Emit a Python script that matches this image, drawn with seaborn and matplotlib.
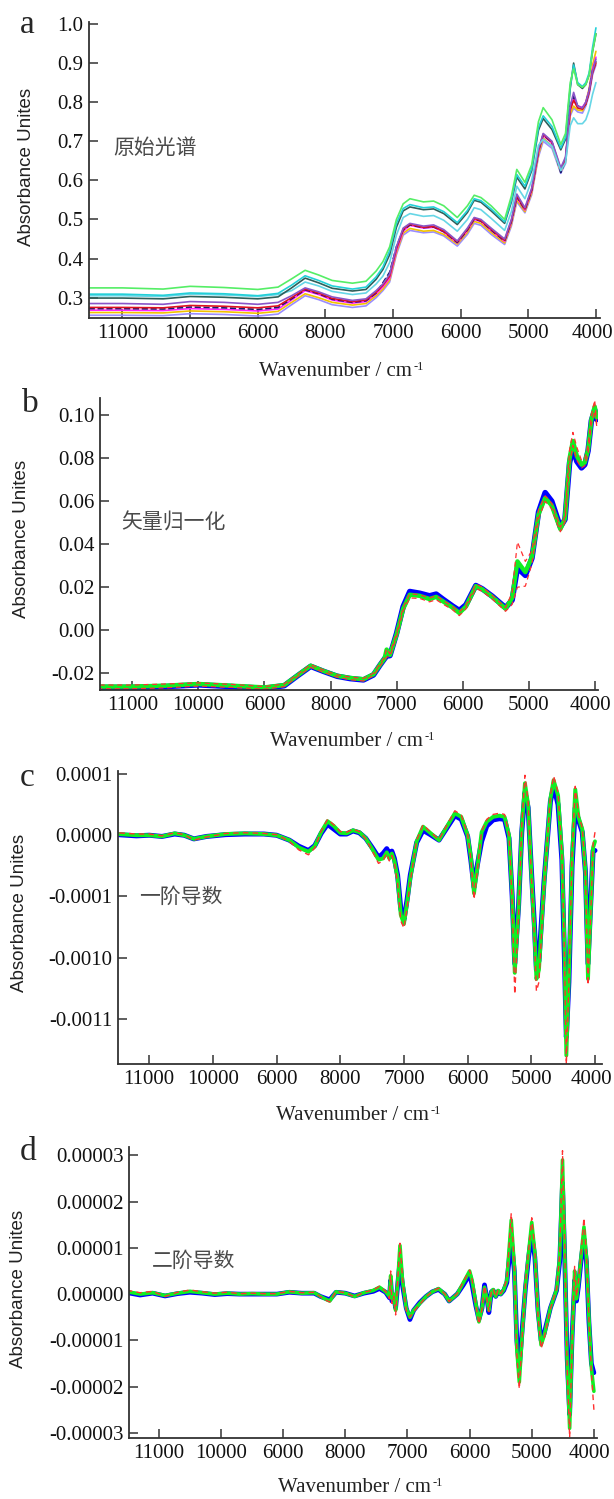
import matplotlib
matplotlib.use("Agg")
import pandas as pd
import matplotlib.pyplot as plt
import seaborn as sns
from matplotlib.ticker import FixedLocator, FixedFormatter
from matplotlib.transforms import ScaledTranslation

# ---------------- data ----------------
# x tick positions and the labels as they are printed (third one reads "6000")
x_ticks = [11000, 10000, 9000, 8000, 7000, 6000, 5000, 4000]
x_tick_labels = ['11000', '10000', '6000', '8000', '7000', '6000', '5000', '4000']

# panel a: raw spectra
wn_a = [11500, 11000, 10400, 10000, 9500, 9000, 8700, 8500, 8300, 8100,
        7900, 7600, 7400, 7250, 7150, 7050, 6950, 6850, 6750, 6550,
        6400, 6250, 6050, 5900, 5800, 5700, 5550, 5350, 5250, 5170,
        5050, 4950, 4850, 4780, 4650, 4520, 4450, 4380, 4330, 4270,
        4200, 4150, 4100, 4050, 4000]
raw_green = [.325, .325, .322, .329, .326, .321, .327, .348, .370, .358,
             .344, .337, .342, .368, .392, .43, .50, .54, .553, .545,
             .547, .535, .505, .535, .562, .556, .535, .500, .56, .628,
             .595, .64, .75, .786, .755, .692, .72, .85, .885, .845,
             .838, .845, .87, .93, .975]
raw_cyan = [.309, .309, .306, .312, .310, .305, .311, .332, .356, .344,
            .330, .322, .327, .353, .378, .42, .49, .528, .538, .530,
            .532, .520, .492, .523, .553, .548, .527, .494, .55, .615,
            .585, .63, .735, .765, .738, .683, .71, .84, .895, .85,
            .84, .85, .875, .94, .99]
raw_slate = [.299, .299, .297, .303, .301, .297, .302, .325, .350, .338,
             .324, .317, .321, .347, .372, .41, .48, .522, .532, .525,
             .527, .515, .487, .518, .549, .544, .522, .490, .545, .608,
             .578, .625, .728, .758, .73, .678, .705, .835, .90, .845,
             .835, .845, .87, .93, .975]
raw_lightcyan = [.305, .305, .303, .309, .307, .303, .308, .318, .340, .330,
                 .316, .308, .312, .335, .355, .39, .46, .505, .515, .508,
                 .510, .498, .470, .50, .53, .525, .503, .472, .52, .585,
                 .553, .60, .69, .705, .688, .625, .645, .74, .76, .745,
                 .745, .755, .78, .82, .85]
raw_purple = [.285, .285, .283, .290, .288, .283, .288, .305, .325, .315,
              .302, .293, .297, .318, .335, .36, .43, .478, .49, .483,
              .486, .474, .445, .478, .505, .500, .478, .450, .50, .565,
              .530, .58, .68, .72, .70, .632, .66, .79, .825, .79,
              .785, .80, .83, .88, .91]
raw_red = [.275, .275, .274, .280, .278, .274, .279, .300, .322, .312,
           .298, .290, .294, .314, .332, .355, .425, .475, .488, .480,
           .482, .470, .443, .475, .503, .497, .475, .447, .497, .560,
           .527, .576, .676, .718, .698, .628, .655, .78, .805, .785,
           .782, .795, .825, .875, .90]
raw_navy = [.272, .272, .271, .276, .274, .270, .275, .297, .320, .310,
            .296, .288, .292, .312, .338, .365, .43, .473, .486, .479,
            .481, .469, .441, .473, .501, .496, .473, .445, .495, .558,
            .525, .575, .675, .716, .697, .620, .650, .79, .815, .79,
            .785, .795, .83, .88, .905]
raw_magenta = [.268, .268, .267, .272, .270, .266, .271, .294, .318, .308,
               .294, .286, .290, .310, .328, .35, .42, .47, .485, .478,
               .480, .468, .440, .472, .500, .495, .472, .444, .493, .556,
               .524, .573, .672, .715, .695, .625, .652, .78, .81, .79,
               .787, .80, .83, .885, .915]
raw_yellow = [.262, .262, .261, .266, .264, .260, .265, .288, .310, .300,
              .288, .281, .285, .305, .322, .345, .415, .465, .477, .470,
              .472, .462, .437, .467, .495, .490, .467, .440, .488, .550,
              .520, .568, .665, .708, .688, .622, .648, .77, .79, .78,
              .778, .80, .835, .895, .93]
raw_violet = [.255, .255, .254, .259, .257, .253, .258, .282, .305, .295,
              .282, .275, .279, .300, .318, .34, .41, .46, .472, .466,
              .468, .458, .432, .462, .490, .485, .462, .436, .483, .545,
              .517, .563, .66, .70, .682, .618, .643, .765, .785, .775,
              .772, .79, .82, .87, .895]

# panel b: vector normalised
wn_b = [11500, 11000, 10500, 10000, 9500, 9000,
        8700, 8500, 8300, 8100, 7900, 7700, 7500,
        7350, 7250, 7180, 7150, 7100, 7000,
        6900, 6800, 6650, 6500, 6400, 6300,
        6150, 6050, 5950, 5800, 5700, 5550,
        5350, 5250, 5170, 5050, 4950, 4850,
        4750, 4650, 4520, 4450, 4380, 4330,
        4270, 4200, 4150, 4100, 4050, 4000, 3970]
vn_blue = [-0.0266, -0.0266, -0.0262, -0.0254, -0.0262, -0.0270,
           -0.0258, -0.0212, -0.0168, -0.0192, -0.0214, -0.0225, -0.0231,
           -0.0208, -0.0162, -0.0132, -0.0120, -0.0118, -0.0015,
           0.0110, 0.0180, 0.0172, 0.0160, 0.0168, 0.0145,
           0.0112, 0.0092, 0.0118, 0.0208, 0.0192, 0.0158,
           0.0105, 0.0140, 0.0290, 0.0255, 0.0335, 0.0550,
           0.0640, 0.0600, 0.0480, 0.0515, 0.0780, 0.0845,
           0.0785, 0.0755, 0.0770, 0.0835, 0.0975, 0.1025, 0.0980]
vn_green = [-0.0262, -0.0262, -0.0258, -0.0250, -0.0258, -0.0266,
            -0.0255, -0.0210, -0.0165, -0.0190, -0.0212, -0.0222, -0.0228,
            -0.0205, -0.0160, -0.0130, -0.0090, -0.0115, -0.0020,
            0.0100, 0.0165, 0.0160, 0.0145, 0.0155, 0.0135,
            0.0105, 0.0080, 0.0110, 0.0205, 0.0190, 0.0155,
            0.0100, 0.0150, 0.0320, 0.0270, 0.0340, 0.0540,
            0.0615, 0.0580, 0.0470, 0.0520, 0.0800, 0.0880,
            0.0810, 0.0770, 0.0780, 0.0840, 0.0980, 0.1040, 0.0990]
vn_red_hi = [-0.0255, -0.0255, -0.0250, -0.0245, -0.0252, -0.0262,
             -0.0250, -0.0206, -0.0160, -0.0186, -0.0208, -0.0218, -0.0224,
             -0.0200, -0.0155, -0.0125, -0.0085, -0.0110, -0.0015,
             0.0105, 0.0170, 0.0165, 0.0150, 0.0160, 0.0140,
             0.0110, 0.0085, 0.0115, 0.0215, 0.0200, 0.0162,
             0.0105, 0.0175, 0.0410, 0.0320, 0.0370, 0.0560,
             0.0625, 0.0590, 0.0478, 0.0530, 0.0840, 0.0920,
             0.0850, 0.0790, 0.0795, 0.0860, 0.1000, 0.1070, 0.0960]
vn_red_lo = [-0.0272, -0.0272, -0.0268, -0.0260, -0.0266, -0.0274,
             -0.0262, -0.0216, -0.0172, -0.0196, -0.0218, -0.0230, -0.0236,
             -0.0212, -0.0166, -0.0136, -0.0125, -0.0122, -0.0030,
             0.0090, 0.0150, 0.0148, 0.0132, 0.0142, 0.0122,
             0.0095, 0.0068, 0.0100, 0.0195, 0.0180, 0.0145,
             0.0088, 0.0120, 0.0200, 0.0205, 0.0310, 0.0520,
             0.0600, 0.0565, 0.0458, 0.0505, 0.0770, 0.0860,
             0.0790, 0.0755, 0.0765, 0.0825, 0.0960, 0.1020, 0.0950]

# panel c: first derivative (plotted in tick units, ticks 1 .. -3)
wn_c = [11500, 11200, 11000, 10800, 10600, 10450, 10300, 10100, 9800, 9500,
        9200, 9000, 8800, 8650, 8500, 8400, 8300, 8200, 8100, 8000,
        7900, 7800, 7700, 7600, 7500, 7400, 7330, 7270, 7230, 7190,
        7150, 7100, 7050, 7000, 6950, 6900, 6800, 6700, 6600, 6450,
        6350, 6200, 6100, 6000, 5950, 5900, 5850, 5780, 5700, 5600,
        5500, 5420, 5350, 5300, 5260, 5200, 5150, 5100, 5050, 5000,
        4950, 4920, 4880, 4800, 4700, 4650, 4580, 4520, 4480, 4450,
        4410, 4360, 4310, 4260, 4200, 4150, 4110, 4060, 4030, 4000]
d1_blue = [0.01, -0.01, 0.00, -0.02, 0.02, 0.00, -0.06, -0.02, 0.01, 0.02,
           0.02, 0.00, -0.08, -0.18, -0.25, -0.17, 0.03, 0.18, 0.10, 0.02,
           0.02, 0.07, 0.04, -0.05, -0.20, -0.36, -0.30, -0.22, -0.30, -0.26,
           -0.38, -0.65, -1.20, -1.38, -1.05, -0.65, -0.12, 0.08, 0.02, -0.08,
           0.08, 0.32, 0.26, -0.02, -0.40, -0.85, -0.50, -0.10, 0.15, 0.25,
           0.27, 0.26, -0.05, -1.00, -2.10, -1.15, 0.05, 0.70, 0.45, -0.55,
           -1.50, -2.20, -2.05, -0.75, 0.55, 0.80, 0.50, -0.40, -2.00, -3.30,
           -2.40, -0.50, 0.45, 0.25, 0.05, -0.60, -2.10, -0.95, -0.25, -0.25]
d1_green = [0.02, 0.00, 0.00, -0.02, 0.03, 0.00, -0.06, -0.02, 0.02, 0.03,
            0.02, 0.00, -0.08, -0.20, -0.27, -0.18, 0.05, 0.23, 0.15, 0.04,
            0.03, 0.08, 0.05, -0.05, -0.22, -0.40, -0.38, -0.28, -0.38, -0.30,
            -0.42, -0.70, -1.30, -1.45, -1.10, -0.70, -0.10, 0.14, 0.05, -0.08,
            0.10, 0.36, 0.30, 0.00, -0.35, -0.95, -0.55, 0.05, 0.22, 0.30,
            0.32, 0.30, 0.00, -1.00, -2.25, -1.20, 0.10, 0.85, 0.50, -0.60,
            -1.60, -2.35, -2.20, -0.80, 0.60, 0.90, 0.65, -0.30, -1.80, -3.60,
            -2.30, -0.40, 0.75, 0.30, 0.10, -0.60, -2.35, -1.00, -0.20, -0.10]
d1_red = [0.04, 0.02, 0.02, -0.01, 0.04, 0.01, -0.08, -0.03, 0.03, 0.04,
          0.03, 0.01, -0.10, -0.24, -0.32, -0.21, 0.07, 0.26, 0.17, 0.06,
          0.05, 0.10, 0.06, -0.06, -0.25, -0.46, -0.42, -0.30, -0.42, -0.33,
          -0.46, -0.78, -1.40, -1.52, -1.18, -0.75, -0.08, 0.17, 0.07, -0.07,
          0.12, 0.40, 0.33, 0.02, -0.38, -1.05, -0.60, 0.07, 0.26, 0.34,
          0.36, 0.34, 0.02, -1.10, -2.60, -1.30, 0.15, 0.98, 0.55, -0.65,
          -1.70, -2.55, -2.40, -0.85, 0.65, 0.97, 0.70, -0.30, -1.90, -3.75,
          -2.40, -0.35, 0.80, 0.35, 0.12, -0.65, -2.45, -1.10, -0.15, 0.05]
d1_ticks = [1, 0, -1, -2, -3]
d1_tick_labels = ['0.0001', '0.0000', '-0.0001', '-0.0010', '-0.0011']

# panel d: second derivative (in units of 1e-5)
wn_d = [11500, 11300, 11100, 10900, 10700, 10500, 10300, 10100, 9900, 9700,
        9500, 9300, 9100, 8900, 8700, 8500, 8400, 8300, 8250, 8150,
        8000, 7850, 7700, 7550, 7450, 7350, 7290, 7270, 7250, 7220,
        7190, 7150, 7120, 7080, 7020, 6960, 6900, 6800, 6700, 6600,
        6500, 6400, 6330, 6200, 6100, 6000, 5960, 5900, 5850, 5800,
        5760, 5720, 5690, 5650, 5620, 5580, 5540, 5500, 5450, 5400,
        5330, 5280, 5240, 5200, 5150, 5100, 5050, 5000, 4950, 4900,
        4850, 4800, 4700, 4600, 4550, 4505, 4470, 4430, 4390, 4350,
        4310, 4280, 4250, 4200, 4160, 4120, 4080, 4040, 4000]
d2_blue = [0.03, -0.02, 0.02, -0.04, 0.01, 0.04, 0.02, -0.01, 0.01, 0.00,
           0.00, 0.00, 0.00, 0.04, 0.02, 0.02, -0.05, -0.10, -0.12, 0.04,
           0.02, -0.04, 0.02, 0.06, 0.12, 0.04, -0.08, 0.30, -0.15, -0.05,
           -0.30, 0.30, 0.70, 0.20, -0.30, -0.55, -0.35, -0.18, -0.05, 0.05,
           0.10, 0.00, -0.15, 0.00, 0.20, 0.42, 0.20, -0.25, -0.55, -0.30,
           0.20, -0.10, -0.40, 0.05, 0.08, -0.05, 0.06, 0.00, 0.08, 0.25,
           1.20, 0.50, -1.00, -1.60, -0.70, 0.15, 0.80, 1.30, 0.80, -0.35,
           -1.00, -0.85, -0.30, 0.08, 0.70, 2.40, 0.80, -1.40, -2.60, -0.90,
           0.30, -0.15, 0.15, 0.80, 1.20, 0.70, -0.60, -1.50, -1.70]
d2_green = [0.05, 0.00, 0.03, -0.03, 0.02, 0.06, 0.03, 0.00, 0.02, 0.00,
            0.01, 0.00, 0.00, 0.05, 0.02, 0.03, -0.05, -0.12, -0.15, 0.05,
            0.02, -0.05, 0.03, 0.08, 0.15, 0.05, -0.05, 0.40, -0.10, 0.00,
            -0.35, 0.40, 1.05, 0.30, -0.30, -0.50, -0.35, -0.20, -0.05, 0.05,
            0.12, 0.00, -0.15, 0.00, 0.25, 0.50, 0.30, -0.20, -0.60, -0.30,
            0.15, -0.10, -0.35, 0.05, 0.10, -0.05, 0.08, 0.00, 0.10, 0.30,
            1.60, 0.60, -1.20, -1.90, -0.80, 0.20, 0.90, 1.55, 0.90, -0.40,
            -1.10, -0.90, -0.30, 0.10, 0.80, 2.90, 1.00, -1.50, -2.90, -1.00,
            0.50, -0.10, 0.20, 0.90, 1.45, 0.80, -0.50, -1.60, -2.10]
d2_red = [0.08, 0.03, 0.06, -0.05, 0.04, 0.09, 0.05, 0.02, 0.04, 0.01,
          0.02, 0.01, 0.01, 0.06, 0.03, 0.04, -0.06, -0.14, -0.17, 0.06,
          0.03, -0.06, 0.04, 0.09, 0.17, 0.06, -0.10, 0.50, -0.20, -0.05,
          -0.45, 0.45, 1.10, 0.35, -0.35, -0.50, -0.38, -0.22, -0.06, 0.06,
          0.13, 0.01, -0.16, 0.01, 0.27, 0.52, 0.32, -0.22, -0.65, -0.32,
          0.18, -0.12, -0.38, 0.06, 0.12, -0.06, 0.10, 0.01, 0.12, 0.33,
          1.75, 0.65, -1.30, -2.05, -0.85, 0.22, 0.95, 1.65, 0.95, -0.45,
          -1.18, -0.95, -0.32, 0.12, 0.85, 3.10, 1.05, -1.60, -3.10, -1.05,
          0.60, -0.05, 0.25, 1.00, 1.65, 0.85, -0.55, -1.70, -2.50]
d2_ticks = [3, 2, 1, 0, -1, -2, -3]
d2_tick_labels = ['0.00003', '0.00002', '0.00001', '0.00000',
                  '-0.00001', '-0.00002', '-0.00003']

# ---------------- figure ----------------
sns.set_style("ticks")
plt.rcParams['font.family'] = ['Liberation Serif', 'DejaVu Serif']
plt.rcParams['axes.unicode_minus'] = False

W, H = 614, 1499
fig = plt.figure(figsize=(W / 100, H / 100), dpi=100)
renderer = fig.canvas.get_renderer()


def px_axes(left, right, top, bottom):
    return fig.add_axes([left / W, 1 - bottom / H, (right - left) / W, (bottom - top) / H])


def draw(ax, wn, series):
    for vals, color, lw, ls in series:
        df = pd.DataFrame({'wn': wn, 'value': vals})
        sns.lineplot(data=df, x='wn', y='value', ax=ax, color=color, lw=lw,
                     linestyle=ls, estimator=None, legend=False)


def finish(ax, xlim, ylim, yticks, ylabels):
    ax.set_xlim(*xlim)
    ax.set_ylim(*ylim)
    ax.xaxis.set_major_locator(FixedLocator(x_ticks))
    ax.xaxis.set_major_formatter(FixedFormatter(x_tick_labels))
    ax.yaxis.set_major_locator(FixedLocator(yticks))
    ax.yaxis.set_major_formatter(FixedFormatter(ylabels))
    ax.set_xlabel('')
    ax.set_ylabel('')
    sns.despine(ax=ax)
    for s in ('left', 'bottom'):
        ax.spines[s].set_color('#333333')
        ax.spines[s].set_linewidth(1.3)
    ax.tick_params(axis='both', direction='in', length=6.5, width=1.1,
                   labelsize=15, colors='#333333', labelcolor='#111111', pad=4)
    ax.set_facecolor('none')
    # the "4000" label sits tight against the right edge, nudge it in a little
    last = ax.xaxis.get_major_ticks(len(x_ticks))[-1].label1
    last.set_transform(last.get_transform() + ScaledTranslation(-4 / 100, 0, fig.dpi_scale_trans))


def texts(letter, lxy, note, nxy, ylab_x, ylab_y, xlab_xy):
    fig.text(lxy[0] / W, 1 - lxy[1] / H, letter, fontsize=24, ha='center', va='center')
    fig.text(nxy[0] / W, 1 - nxy[1] / H, note, family=['Noto Sans CJK SC'],
             fontsize=15, color='#4a4a4a', ha='left', va='center')
    fig.text(ylab_x / W, 1 - ylab_y / H, 'Absorbance Unites', family=['Liberation Sans'],
             fontsize=13.5, rotation=90, ha='center', va='center', color='#222222')
    # x label with a small "-1" superscript, kept as plain text
    main = fig.text(xlab_xy[0] / W - 0.012, 1 - xlab_xy[1] / H, 'Wavenumber / cm',
                    fontsize=15, ha='center', va='center', color='#222222')
    bb = main.get_window_extent(renderer=renderer)
    fig.text((bb.x1 + 1) / W, (bb.y1 + 1) / H, '-1', fontsize=9,
             ha='left', va='top', color='#222222')


# a
ax_a = px_axes(89, 600, 22, 318)
draw(ax_a, wn_a, [
    (raw_violet, '#9a8cff', 1.2, '-'),
    (raw_yellow, '#f2c200', 1.2, '-'),
    (raw_magenta, '#ff22ff', 1.2, '-'),
    (raw_navy, '#1a1a6e', 1.2, '--'),
    (raw_red, '#e01020', 1.2, '-'),
    (raw_purple, '#8a55c8', 1.2, '-'),
    (raw_lightcyan, '#66d6e6', 1.2, '-'),
    (raw_slate, '#2f5f5a', 1.2, '-'),
    (raw_cyan, '#22d0d8', 1.2, '-'),
    (raw_green, '#55ee66', 1.2, '-'),
])
finish(ax_a, (11495, 3940), (0.248, 1.005),
       [1.0, 0.9, 0.8, 0.7, 0.6, 0.5, 0.4, 0.3],
       ['1.0', '0.9', '0.8', '0.7', '0.6', '0.5', '0.4', '0.3'])
texts('a', (27, 25), '原始光谱', (113, 148), 27, 167, (343, 371))

# b
ax_b = px_axes(100, 598, 398, 690)
draw(ax_b, wn_b, [
    (vn_blue, '#0000ff', 4.0, '-'),
    (vn_green, '#11ee22', 3.2, '-'),
    (vn_red_hi, '#ff3030', 0.9, (0, (4, 3))),
    (vn_red_lo, '#ff3030', 0.9, (0, (4, 3))),
])
finish(ax_b, (11490, 3950), (-0.0278, 0.108),
       [0.10, 0.08, 0.06, 0.04, 0.02, 0.00, -0.02],
       ['0.10', '0.08', '0.06', '0.04', '0.02', '0.00', '-0.02'])
texts('b', (30, 404), '矢量归一化', (121, 523), 22, 539, (354, 742))

# c
ax_c = px_axes(118, 602, 771, 1064)
draw(ax_c, wn_c, [
    (d1_blue, '#0000ff', 3.6, '-'),
    (d1_green, '#11ee22', 2.8, '-'),
    (d1_red, '#ff3030', 1.0, (0, (4, 3))),
])
finish(ax_c, (11490, 3890), (-3.74, 1.05), d1_ticks, d1_tick_labels)
texts('c', (27, 778), '一阶导数', (139, 897), 20, 913, (360, 1116))

# d
ax_d = px_axes(129, 597, 1147, 1438)
draw(ax_d, wn_d, [
    (d2_blue, '#0000ff', 3.4, '-'),
    (d2_green, '#11ee22', 2.6, '-'),
    (d2_red, '#ff3030', 1.0, (0, (4, 3))),
])
finish(ax_d, (11480, 3950), (-3.11, 3.18), d2_ticks, d2_tick_labels)
texts('d', (28, 1152), '二阶导数', (152, 1261), 19, 1289, (362, 1488))

fig.savefig('out.png', dpi=100, facecolor='white')
